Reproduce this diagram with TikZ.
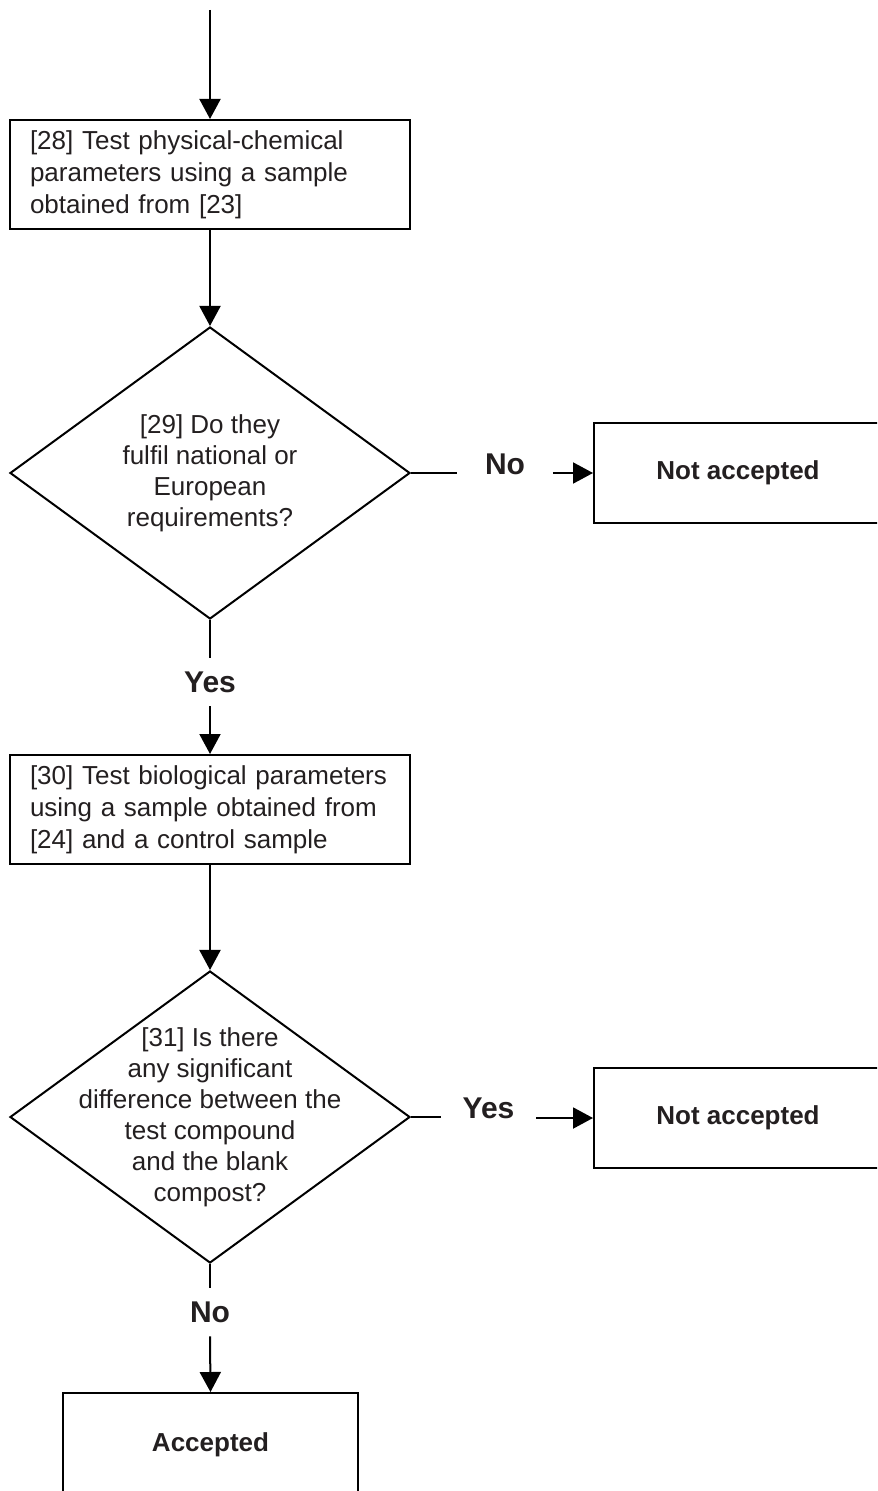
\documentclass[tikz,border=0pt]{standalone}
\usepackage{fontspec}
\setmainfont{Liberation Sans}
\usepackage{tikz}
\usetikzlibrary{shapes.geometric}
\usetikzlibrary{arrows.meta}
\usetikzlibrary{positioning}
\definecolor{inkgray}{RGB}{35,31,32}

\tikzset{
  procbox/.style={draw, line width=1pt, rectangle, minimum width=200pt, minimum height=54.5pt,
                  text width=180pt, inner xsep=10pt, align=left, font=\fontsize{13}{16}\selectfont, text=inkgray},
  decision/.style={draw, line width=1pt, diamond, minimum width=200pt, minimum height=146pt, inner sep=0pt},
  qtext/.style={align=center, font=\fontsize{13}{15.5}\selectfont, text=inkgray},
  endbox/.style={draw, line width=1pt, rectangle, minimum width=144pt, minimum height=50pt,
                 font=\bfseries\fontsize{13}{15}\selectfont, text=inkgray},
  lbl/.style={font=\bfseries\fontsize{15}{18}\selectfont, text=inkgray, inner sep=0pt},
  flow/.style={line width=1pt, -{Triangle[length=10pt,width=10.5pt]}},
  plain/.style={line width=1pt},
}

\begin{document}
\begin{tikzpicture}[x=0.5pt, y=-0.5pt]
            \useasboundingbox (0,0) rectangle (877,1491);
            \clip (0,0) rectangle (877,1491);
            % first test and decision
            \coordinate (start) at (210,10);
            \node[procbox]  (test28)    at (210,174.5) {[28] Test physical-chemical\\parameters using a sample\\obtained from [23]};
            \node[decision] (dec29)     at (210,473)   {};
            \node[qtext]    (dec29txt)  at (dec29.center) {[29] Do they\\fulfil national or\\European\\requirements?};
            \node[endbox]   (rej29)     at (738,473)   {Not accepted};
            \node[lbl, minimum width=47.5pt] (no29)  at (505,464) {No};
            \node[lbl, minimum height=24pt]  (yes29) at (210,682) {Yes};
            % second test and decision
            \node[procbox]  (test30)    at (210,809.5) {[30] Test biological parameters\\using a sample obtained from\\{[24]} and a control sample};
            \node[decision] (dec31)     at (210,1117)  {};
            \node[qtext]    (dec31txt)  at (dec31.center) {[31] Is there\\any significant\\difference between the\\test compound\\and the blank\\compost?};
            \node[endbox]   (rej31)     at (738,1118)  {Not accepted};
            \node[lbl, minimum width=47.5pt] (yes31) at (488.5,1108) {Yes};
            \node[lbl, minimum height=24pt]  (no31)  at (210,1312) {No};
            \node[endbox, minimum width=147.5pt, minimum height=52pt] (acc) at (210.5,1445) {Accepted};
            % connectors
            \draw[flow]  (start)  -- (test28);
            \draw[flow]  (test28) -- (dec29);
            \draw[plain] (dec29.east) -- (dec29.east -| no29.west);
            \draw[flow]  (no29.east |- rej29.west) -- (rej29.west);
            \draw[plain] (dec29.south) -- (yes29.north);
            \draw[flow]  (yes29.south) -- (test30.north);
            \draw[flow]  (test30) -- (dec31);
            \draw[plain] (dec31.east) -- (dec31.east -| yes31.west);
            \draw[flow]  (yes31.east |- rej31.west) -- (rej31.west);
            \draw[plain] (dec31.south) -- (no31.north);
            \draw[flow]  (no31.south) -- (acc.north);
        \end{tikzpicture}
\end{document}
